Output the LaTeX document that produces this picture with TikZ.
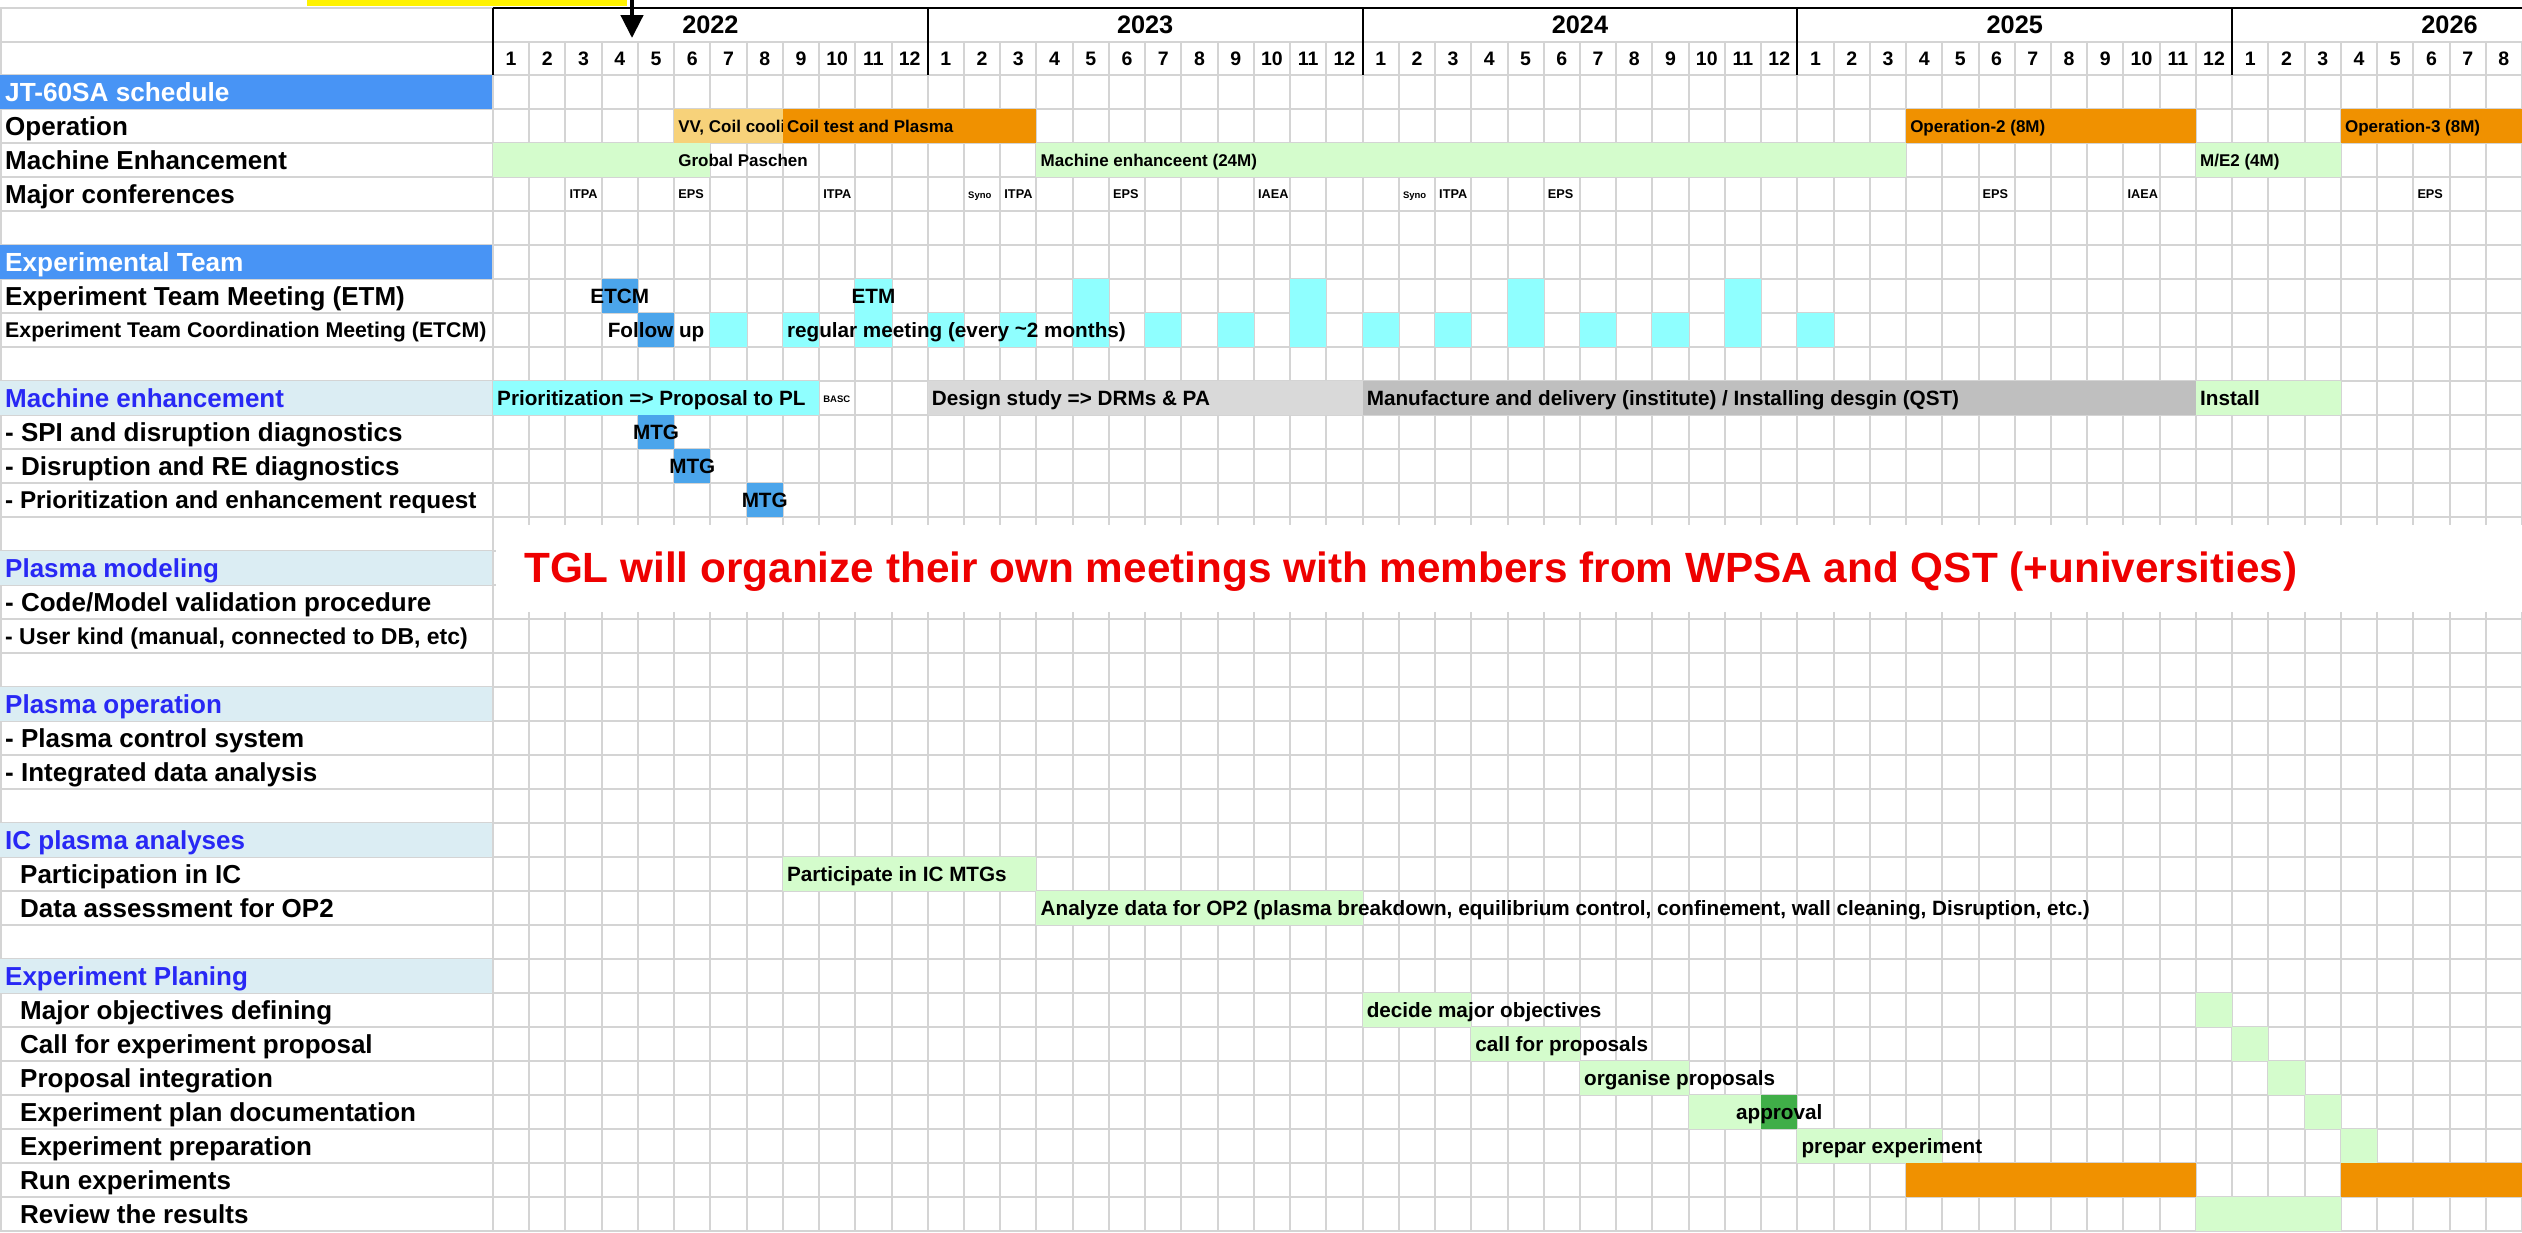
\documentclass[tikz,border=0pt]{standalone}
\usepackage{fontspec}
\setmainfont{Liberation Sans}
\usetikzlibrary{arrows.meta}
\definecolor{hdrblue}{RGB}{72,148,245}
\definecolor{secbg}{RGB}{219,237,243}
\definecolor{sectxt}{RGB}{40,40,245}
\definecolor{gridc}{RGB}{212,212,212}
\definecolor{lgreen}{RGB}{212,252,204}
\definecolor{dgreen}{RGB}{64,174,72}
\definecolor{orng}{RGB}{240,145,0}
\definecolor{lorng}{RGB}{247,210,122}
\definecolor{cyanb}{RGB}{143,255,255}
\definecolor{midblue}{RGB}{75,165,235}
\definecolor{lgray}{RGB}{217,217,217}
\definecolor{mgray}{RGB}{191,191,191}
\definecolor{redt}{RGB}{238,0,0}
\def\W{36.232}
\def\H{34}
% name,row,mfirst,mlast,nrows,color
\newcommand\CF[6]{\node[cellbox, fill=#6, minimum width={(#4-#3+1)*\W*1pt}, minimum height={#5*\H*1pt}] (#1) at ({493+(#3-1)*\W},{75+#2*\H}) {};}
% name,style,row,month,baseline offset,text  (left aligned)
\newcommand\TL[6]{\node[#2, anchor=base west] (#1) at ({493+(#4-1)*\W+4},{75+#3*\H+#5}) {#6};}
% name,style,row,month,baseline offset,text  (centred in month)
\newcommand\TC[6]{\node[#2, anchor=base] (#1) at ({493+(#4-0.5)*\W},{75+#3*\H+#5}) {#6};}
% name,style,row,x,text  (label column)
\newcommand\LB[5]{\node[#2, anchor=base west] (#1) at (#4,{75+#3*\H+26.2}) {#5};}
\begin{document}
\begin{tikzpicture}[x=1pt,y=-1pt,
  cellbox/.style={rectangle, inner sep=0pt, outer sep=0pt, anchor=north west, draw=none},
  lab/.style={inner sep=0pt, font=\fontsize{26}{30}\selectfont\bfseries},
  hdrlab/.style={inner sep=0pt, text=white, font=\fontsize{26.2}{30}\selectfont\bfseries},
  seclab/.style={inner sep=0pt, text=sectxt, font=\fontsize{26}{30}\selectfont\bfseries},
  bt/.style={inner sep=0pt, font=\fontsize{20.7}{24}\selectfont\bfseries},
  bts/.style={inner sep=0pt, font=\fontsize{17}{20}\selectfont\bfseries},
  conf/.style={inner sep=0pt, font=\fontsize{12.7}{14}\selectfont\bfseries},
  tiny/.style={inner sep=0pt, font=\fontsize{9.5}{11}\selectfont\bfseries},
  yr/.style={inner sep=0pt, anchor=base, font=\fontsize{25.3}{30}\selectfont\bfseries},
  mo/.style={inner sep=0pt, anchor=base, font=\fontsize{19.5}{24}\selectfont\bfseries},
  gridl/.style={draw=gridc, line width=2pt},
  blk/.style={draw=black, line width=2pt}]
\useasboundingbox (0,0) rectangle (2522,1232);
\fill[white] (0,0) rectangle (2522,1232);
% ---------------- grid
\foreach \k in {0,...,56} \draw[gridl] ({493+\k*\W},41.7) -- ({493+\k*\W},1232);
\foreach \r in {0,...,34} \draw[gridl] (0,{75+\r*\H}) -- (2522,{75+\r*\H});
\draw[gridl] (0,41.7) -- (2522,41.7);
\draw[gridl] (0,7.5) -- (493,7.5);
\draw[gridl] (1,7.5) -- (1,1232);
% ---------------- label column backgrounds
\node[cellbox, fill=hdrblue, minimum width=492pt, minimum height=34pt] (bg0) at (0,75) {};
\node[cellbox, fill=hdrblue, minimum width=492pt, minimum height=34pt] (bg5) at (0,{75+5*\H}) {};
\foreach \r in {9,14,18,22,26}
  \node[cellbox, fill=secbg, minimum width=492pt, minimum height=34pt] (bg\r) at (0,{75+\r*\H}) {};
% ---------------- header
\node[cellbox, fill=yellow, minimum width=320pt, minimum height=5.5pt] (marker) at (307,0) {};
\draw[blk] (493,7.5) -- (2522,7.5);
\foreach \k in {0,12,24,36,48} \draw[blk] ({493+\k*\W},7.5) -- ({493+\k*\W},75);
\node[yr] (y2022) at ({493+6*\W},33.6) {2022};
\node[yr] (y2023) at ({493+18*\W},33.6) {2023};
\node[yr] (y2024) at ({493+30*\W},33.6) {2024};
\node[yr] (y2025) at ({493+42*\W},33.6) {2025};
\node[yr] (y2026) at ({493+54*\W},33.6) {2026};
\foreach \k in {1,...,56} {
  \pgfmathtruncatemacro\mm{mod(\k-1,12)+1}
  \node[mo] (mo\k) at ({493+(\k-0.5)*\W},65.4) {\mm};
}
\coordinate (arrtop) at (632,0);
\coordinate (arrtip) at (632,38);
\draw[line width=4.5pt, -{Triangle[length=23pt,width=22pt]}] (arrtop) -- (arrtip);
% ---------------- bars: JT-60SA schedule
\CF{op1a}{1}{6}{8}{1}{lorng}
\CF{op1b}{1}{9}{15}{1}{orng}
\CF{op2}{1}{40}{47}{1}{orng}
\CF{op3}{1}{52}{56}{1}{orng}
\CF{me0}{2}{1}{6}{1}{lgreen}
\CF{me1}{2}{16}{39}{1}{lgreen}
\CF{me2}{2}{48}{51}{1}{lgreen}
% ---------------- Experimental team
\CF{etcmA}{6}{4}{4}{1}{midblue}
\CF{follow}{7}{5}{5}{1}{midblue}
\foreach \m [count=\c] in {11,17,23,29,35} {\CF{etm\c}{6}{\m}{\m}{2}{cyanb}}
\foreach \m [count=\c] in {7,9,13,15,19,21,25,27,31,33,37} {\CF{etc\c}{7}{\m}{\m}{1}{cyanb}}
% ---------------- Machine enhancement
\CF{prio}{9}{1}{9}{1}{cyanb}
\CF{design}{9}{13}{24}{1}{lgray}
\CF{manuf}{9}{25}{47}{1}{mgray}
\CF{install}{9}{48}{51}{1}{lgreen}
\CF{mtgA}{10}{5}{5}{1}{midblue}
\CF{mtgB}{11}{6}{6}{1}{midblue}
\CF{mtgC}{12}{8}{8}{1}{midblue}
% ---------------- IC
\CF{icA}{23}{9}{15}{1}{lgreen}
\CF{icB}{24}{16}{24}{1}{lgreen}
% ---------------- Experiment planing
\CF{epA}{27}{25}{27}{1}{lgreen}
\CF{epB}{28}{28}{30}{1}{lgreen}
\CF{epC}{29}{31}{33}{1}{lgreen}
\CF{epD}{30}{34}{35}{1}{lgreen}
\CF{epDd}{30}{36}{36}{1}{dgreen}
\CF{epE}{31}{37}{40}{1}{lgreen}
\CF{epA2}{27}{48}{48}{1}{lgreen}
\CF{epB2}{28}{49}{49}{1}{lgreen}
\CF{epC2}{29}{50}{50}{1}{lgreen}
\CF{epD2}{30}{51}{51}{1}{lgreen}
\CF{epE2}{31}{52}{52}{1}{lgreen}
\CF{runA}{32}{40}{47}{1}{orng}
\CF{runB}{32}{52}{56}{1}{orng}
\CF{rev}{33}{48}{51}{1}{lgreen}
% ---------------- TGL note
\node[cellbox, fill=white, minimum width=2026pt, minimum height=87pt] (tglbox) at (496,525) {};
\node[inner sep=0pt, anchor=base west, text=redt, font=\fontsize{42.3}{48}\selectfont\bfseries] (tgl) at (524,582)
  {TGL will organize their own meetings with members from WPSA and QST (+universities)};
% ---------------- bar texts
\TL{t1}{bts}{1}{6}{23.1}{VV, Coil cooli}
\CF{op1bcover}{1}{9}{9}{1}{orng}
\TL{t2}{bts}{1}{9}{23.1}{Coil test and Plasma}
\TL{t3}{bts}{1}{40}{23.1}{Operation-2 (8M)}
\TL{t4}{bts}{1}{52}{23.1}{Operation-3 (8M)}
\TL{t5}{bts}{2}{6}{23.1}{Grobal Paschen}
\TL{t6}{bts}{2}{16}{23.1}{Machine enhanceent (24M)}
\TL{t7}{bts}{2}{48}{23.1}{M/E2 (4M)}
\TL{c1}{conf}{3}{3}{21.5}{ITPA}
\TL{c2}{conf}{3}{6}{21.5}{EPS}
\TL{c3}{conf}{3}{10}{21.5}{ITPA}
\TL{c4}{tiny}{3}{14}{21}{Syno}
\TL{c5}{conf}{3}{15}{21.5}{ITPA}
\TL{c6}{conf}{3}{18}{21.5}{EPS}
\TL{c7}{conf}{3}{22}{21.5}{IAEA}
\TL{c8}{tiny}{3}{26}{21}{Syno}
\TL{c9}{conf}{3}{27}{21.5}{ITPA}
\TL{c10}{conf}{3}{30}{21.5}{EPS}
\TL{c11}{conf}{3}{42}{21.5}{EPS}
\TL{c12}{conf}{3}{46}{21.5}{IAEA}
\TL{c13}{conf}{3}{54}{21.5}{EPS}
\TC{t8}{bt}{6}{4}{24.4}{ETCM}
\TC{t9}{bt}{6}{11}{24.4}{ETM}
\TC{t10}{bt}{7}{5}{24.4}{Follow up}
\TL{t11}{bt}{7}{9}{24.4}{regular meeting (every \raisebox{0.1em}{\char"7E}2 months)}
\TL{t12}{bt}{9}{1}{24.4}{Prioritization => Proposal to PL}
\TL{t13}{tiny}{9}{10}{21}{BASC}
\TL{t14}{bt}{9}{13}{24.4}{Design study => DRMs \& PA}
\TL{t15}{bt}{9}{25}{24.4}{Manufacture and delivery (institute) / Installing desgin (QST)}
\TL{t16}{bt}{9}{48}{24.4}{Install}
\TC{t17}{bt}{10}{5}{24.4}{MTG}
\TC{t18}{bt}{11}{6}{24.4}{MTG}
\TC{t19}{bt}{12}{8}{24.4}{MTG}
\TL{t20}{bt}{23}{9}{24.4}{Participate in IC MTGs}
\TL{t21}{bt}{24}{16}{24.4}{Analyze data for OP2 (plasma breakdown, equilibrium control, confinement, wall cleaning, Disruption, etc.)}
\TL{t22}{bt}{27}{25}{24.4}{decide major objectives}
\TL{t23}{bt}{28}{28}{24.4}{call for proposals}
\TL{t24}{bt}{29}{31}{24.4}{organise proposals}
\TC{t25}{bt}{30}{36}{24.4}{approval}
\TL{t26}{bt}{31}{37}{24.4}{prepar experiment}
% ---------------- label column
\LB{l0}{hdrlab}{0}{5}{JT-60SA schedule}
\LB{l1}{lab}{1}{5}{Operation}
\LB{l2}{lab}{2}{5}{Machine Enhancement}
\LB{l3}{lab}{3}{5}{Major conferences}
\LB{l5}{hdrlab}{5}{5}{Experimental Team}
\LB{l6}{lab}{6}{5}{Experiment Team Meeting (ETM)}
\node[inner sep=0pt, anchor=base west, font=\fontsize{21.3}{24}\selectfont\bfseries] (l7) at (5,{75+7*\H+24.6}) {Experiment Team Coordination Meeting (ETCM)};
\LB{l9}{seclab}{9}{5}{Machine enhancement}
\LB{l10}{lab}{10}{5}{- SPI and disruption diagnostics}
\LB{l11}{lab}{11}{5}{- Disruption and RE diagnostics}
\node[inner sep=0pt, anchor=base west, font=\fontsize{24.3}{28}\selectfont\bfseries] (l12) at (5,{75+12*\H+25.7}) {- Prioritization and enhancement request};
\LB{l14}{seclab}{14}{5}{Plasma modeling}
\LB{l15}{lab}{15}{5}{- Code/Model validation procedure}
\node[inner sep=0pt, anchor=base west, font=\fontsize{23}{26}\selectfont\bfseries] (l16) at (5,{75+16*\H+25.2}) {- User kind (manual, connected to DB, etc)};
\LB{l18}{seclab}{18}{5}{Plasma operation}
\LB{l19}{lab}{19}{5}{- Plasma control system}
\LB{l20}{lab}{20}{5}{- Integrated data analysis}
\LB{l22}{seclab}{22}{5}{IC plasma analyses}
\LB{l23}{lab}{23}{20}{Participation in IC}
\LB{l24}{lab}{24}{20}{Data assessment for OP2}
\LB{l26}{seclab}{26}{5}{Experiment Planing}
\LB{l27}{lab}{27}{20}{Major objectives defining}
\LB{l28}{lab}{28}{20}{Call for experiment proposal}
\LB{l29}{lab}{29}{20}{Proposal integration}
\LB{l30}{lab}{30}{20}{Experiment plan documentation}
\LB{l31}{lab}{31}{20}{Experiment preparation}
\LB{l32}{lab}{32}{20}{Run experiments}
\LB{l33}{lab}{33}{20}{Review the results}
\end{tikzpicture}
\end{document}
